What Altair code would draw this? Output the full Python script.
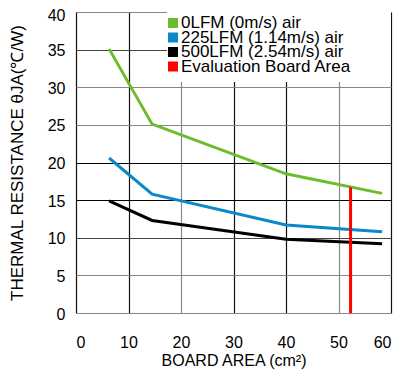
import altair as alt
import pandas as pd

area = [6.3, 14.5, 40, 58.3]
r_0lfm = [35.1, 25.1, 18.5, 15.9]
r_225lfm = [20.6, 15.8, 11.7, 10.8]
r_500lfm = [14.9, 12.3, 9.8, 9.2]
series_names = ["0LFM (0m/s) air", "225LFM (1.14m/s) air", "500LFM (2.54m/s) air", "Evaluation Board Area"]
series_colors = ["#6CBD2D", "#0A88C8", "#000000", "#FF0000"]
eval_area = [52.3]
eval_top = [16.7]
x_ticks = [0, 10, 20, 30, 40, 50, 60]
y_ticks = [0, 5, 10, 15, 20, 25, 30, 35, 40]

rows = []
for name, vals in zip(series_names[:3], [r_0lfm, r_225lfm, r_500lfm]):
    for a, v in zip(area, vals):
        rows.append({"area": a, "r": v, "series": name})
lines_df = pd.DataFrame(rows)
eval_df = pd.DataFrame({"area": eval_area, "r": [0] * len(eval_area), "top": eval_top,
                        "series": [series_names[3]] * len(eval_area)})
legend_df = pd.DataFrame({"series": series_names, "idx": list(range(len(series_names)))})

font = "Liberation Sans"
color_scale = alt.Scale(domain=series_names, range=series_colors)

xgrid = {"condition": [{"test": "datum.value == 20 || datum.value == 50", "value": "#888888"}],
         "value": "#111111"}
ygrid = {"condition": [{"test": "datum.value == 15 || datum.value == 20", "value": "#000000"},
                       {"test": "datum.value == 35 || datum.value == 10", "value": "#444444"}],
         "value": "#888888"}
ylaboff = {"condition": {"test": "datum.value == 40", "value": 3}, "value": 1}

x_enc = alt.X("area:Q", scale=alt.Scale(domain=[0, 60], nice=False),
              axis=alt.Axis(values=x_ticks, title="BOARD AREA (cm²)", grid=True, gridColor=xgrid,
                            gridWidth=1.2, ticks=False, domain=False, labelPadding=21,
                            labelOverlap=False, labelFontSize=16, labelFont=font,
                            labelColor="black", titleFontSize=16, titleFont=font,
                            titleFontWeight="normal", titleColor="black", titlePadding=2))
y_enc = alt.Y("r:Q", scale=alt.Scale(domain=[0, 40], nice=False),
              axis=alt.Axis(values=y_ticks, title="THERMAL RESISTANCE θJA(℃/W)", grid=True,
                            gridColor=ygrid, gridWidth=1.2, ticks=False, domain=False,
                            labelPadding=11, labelOverlap=False, labelOffset=ylaboff,
                            labelFontSize=16, labelFont=font, labelColor="black",
                            titleFontSize=17, titleFont=font, titleFontWeight="normal",
                            titleColor="black", titlePadding=21))
c_enc = alt.Color("series:N", scale=color_scale, legend=None)

bg = alt.Chart(pd.DataFrame({"k": [0]})).mark_rect(color="white").encode(
    x=alt.value(91), x2=alt.value(315), y=alt.value(0), y2=alt.value(70))

lines = alt.Chart(lines_df).mark_line(strokeWidth=3).encode(
    x=x_enc, y=y_enc, color=c_enc, order="area:Q")

rule = alt.Chart(eval_df).mark_rule(strokeWidth=3).encode(
    x=x_enc, y=y_enc, y2="top:Q", color=c_enc)

# legend rows placed in plot units (row pitch 14.5 px of a 301 px tall plot)
leg_base = alt.Chart(legend_df).transform_calculate(r="40 - (11 + datum.idx * 14.5) * 40 / 301")
leg_sq = leg_base.mark_square(size=100, filled=True, opacity=1).encode(
    x=alt.value(97), y=y_enc, color=c_enc)
leg_txt = leg_base.mark_text(align="left", baseline="middle", fontSize=17, font=font,
                             color="black").encode(
    x=alt.value(105), y=y_enc, text="series:N")

chart = alt.layer(bg, lines, rule, leg_sq, leg_txt).properties(
    width=315, height=301,
    autosize=alt.AutoSizeParams(type="none"),
    padding={"left": 68, "top": 4, "right": 2, "bottom": 56},
).configure_view(stroke="black", strokeWidth=3).configure(background="white")

chart.save("out.html", embed_options={"renderer": "svg", "actions": False})
